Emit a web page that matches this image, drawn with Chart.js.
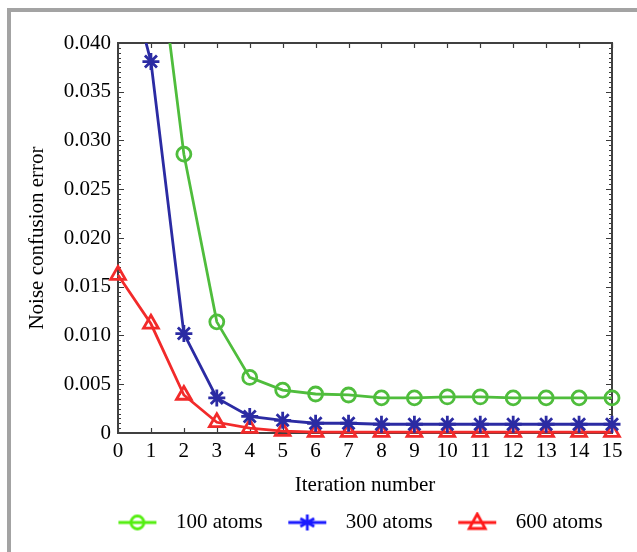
<!DOCTYPE html>
<html>
<head>
<meta charset="utf-8">
<script src="https://cdn.jsdelivr.net/npm/chart.js@4.4.1/dist/chart.umd.min.js"></script>
<style>
  html, body { margin: 0; padding: 0; background: #fff; }
  #wrap { position: relative; width: 637px; height: 552px; }
  #frame { position: absolute; left: 7px; top: 8px; right: 0; bottom: 0;
           border-top: 4px solid #a3a3a3; border-left: 4px solid #a3a3a3; pointer-events: none; }
  canvas { position: absolute; left: 0; top: 0; }
</style>
</head>
<body>
<div id="wrap">
  <canvas id="chart" width="637" height="552"></canvas>
  <div id="frame"></div>
</div>
<script>
const iterations = [0, 1, 2, 3, 4, 5, 6, 7, 8, 9, 10, 11, 12, 13, 14, 15]
const atoms100 = [0.070, 0.0555, 0.0286, 0.0114, 0.0057, 0.0044, 0.0040, 0.0039, 0.0036, 0.0036, 0.0037, 0.0037, 0.0036, 0.0036, 0.0036, 0.0036]
const atoms300 = [0.051, 0.0381, 0.0102, 0.0036, 0.0017, 0.0013, 0.0010, 0.0010, 0.0009, 0.0009, 0.0009, 0.0009, 0.0009, 0.0009, 0.0009, 0.0009]
const atoms600 = [0.0162, 0.0112, 0.0039, 0.0011, 0.0005, 0.0002, 0.0001, 0.0001, 0.0001, 0.0001, 0.0001, 0.0001, 0.0001, 0.0001, 0.0001, 0.0001]
const seriesNames = ['100 atoms', '300 atoms', '600 atoms']
const yTickLabels = ['0', '0.005', '0.010', '0.015', '0.020', '0.025', '0.030', '0.035', '0.040']

const serif = "'Liberation Serif', 'Times New Roman', serif"
const fontSize = 21

// small legend symbols: line with the marker in the middle
let legendSymbol = function(color, kind) {
  let c = document.createElement('canvas')
  c.width = 40; c.height = 22
  let g = c.getContext('2d')
  g.strokeStyle = color; g.lineWidth = 2.8
  g.beginPath(); g.moveTo(1, 11); g.lineTo(39, 11); g.stroke()
  g.beginPath()
  if (kind == 'circle') {
    g.arc(20, 11, 6.5, 0, Math.PI * 2)
  } else if (kind == 'star') {
    for (let a = 0; a < 6; a++) {
      let t = a * Math.PI / 3 + Math.PI / 2
      g.moveTo(20, 11); g.lineTo(20 + 8 * Math.cos(t), 11 + 8 * Math.sin(t))
    }
  } else {
    g.moveTo(20, 2.5); g.lineTo(28, 17); g.lineTo(12, 17); g.closePath()
  }
  g.stroke()
  return c
}
const legendImgs = [legendSymbol('#55ee11', 'circle'), legendSymbol('#1a1aff', 'star'), legendSymbol('#ff1a1a', 'triangle')]

let makeSet = function(label, data, color, style, r) {
  return {
    label: label,
    data: data.map((v, i) => ({ x: iterations[i], y: v })),
    borderColor: color,
    backgroundColor: 'rgba(0,0,0,0)',
    borderWidth: 2.8,
    pointStyle: style,
    pointRadius: r,
    pointBorderWidth: 2.8,
    pointBorderColor: color,
    pointBackgroundColor: 'rgba(0,0,0,0)',
    tension: 0,
    clip: { left: 12, right: 12, top: 0, bottom: 12 }
  }
}

// plot box with inward ticks (minor ticks on the y sides)
const frameTicks = {
  id: 'frameTicks',
  beforeInit(chart) {
    let lg = chart.legend
    let fit = lg.fit
    lg.fit = function() { fit.call(this); this.height = 54 }
  },
  afterLayout(chart) {
    let lg = chart.legend
    lg.left += 50; lg.right += 50
    lg.top -= 2.5; lg.bottom -= 2.5
  },
  beforeDatasetsDraw(chart) {
    let { ctx, chartArea: a, scales } = chart
    ctx.save()
    ctx.strokeStyle = '#3a3a3a'
    ctx.lineWidth = 1.2
    let ys = scales.y
    for (let v = 0; v <= 0.04 + 1e-9; v += 0.0005) {
      let yp = Math.round(ys.getPixelForValue(v)) + 0.5
      let major = Math.abs(v / 0.005 - Math.round(v / 0.005)) < 1e-6
      let len = major ? 6 : 3
      ctx.beginPath()
      ctx.moveTo(a.left, yp); ctx.lineTo(a.left + len, yp)
      ctx.moveTo(a.right, yp); ctx.lineTo(a.right - len, yp)
      ctx.stroke()
    }
    scales.x.ticks.forEach(t => {
      let xp = Math.round(scales.x.getPixelForValue(t.value)) + 0.5
      ctx.beginPath()
      ctx.moveTo(xp, a.bottom); ctx.lineTo(xp, a.bottom - 5)
      ctx.moveTo(xp, a.top); ctx.lineTo(xp, a.top + 5)
      ctx.stroke()
    })
    ctx.lineWidth = 2
    ctx.strokeStyle = '#404040'
    ctx.strokeRect(a.left, a.top, a.right - a.left, a.bottom - a.top)
    ctx.restore()
  }
}

const ctx = document.getElementById('chart').getContext('2d')
let chart = new Chart(ctx, {
  type: 'line',
  data: {
    datasets: [
      makeSet(seriesNames[0], atoms100, '#4fbd3c', 'circle', 7),
      makeSet(seriesNames[1], atoms300, '#2b2ba3', 'star', 8.5),
      makeSet(seriesNames[2], atoms600, '#f22a2a', 'triangle', 8.5)
    ]
  },
  options: {
    responsive: false,
    animation: false,
    layout: { padding: { top: 43, right: 25, left: 0, bottom: 0 } },
    plugins: {
      tooltip: { enabled: false },
      legend: {
        position: 'bottom',
        labels: {
          usePointStyle: true,
          pointStyleWidth: 56,
          padding: 16.5,
          color: '#000',
          font: { family: serif, size: fontSize },
          generateLabels: function(ch) {
            return ch.data.datasets.map((ds, i) => ({
              text: ds.label,
              pointStyle: legendImgs[i],
              fillStyle: 'rgba(0,0,0,0)',
              strokeStyle: 'rgba(0,0,0,0)',
              lineWidth: 0,
              fontColor: '#000',
              hidden: false,
              datasetIndex: i
            }))
          }
        }
      }
    },
    scales: {
      x: {
        type: 'linear',
        min: 0, max: 15,
        grid: { display: false, drawTicks: false },
        border: { display: false },
        ticks: { stepSize: 1, padding: 6, color: '#000', font: { family: serif, size: fontSize } },
        title: { display: true, text: 'Iteration number', color: '#000',
                 font: { family: serif, size: fontSize }, padding: { top: 0, bottom: 0 } },
        afterFit: s => { s.height = 65 }
      },
      y: {
        min: 0, max: 0.04,
        grid: { display: false, drawTicks: false },
        border: { display: false },
        ticks: {
          stepSize: 0.005, padding: 7, color: '#000', font: { family: serif, size: fontSize },
          callback: (v, i) => yTickLabels[i]
        },
        title: { display: true, text: 'Noise confusion error', color: '#000',
                 font: { family: serif, size: fontSize }, padding: { top: 25, bottom: 0 } },
        afterFit: s => { s.width = 118 }
      }
    }
  },
  plugins: [frameTicks]
})
</script>
</body>
</html>
